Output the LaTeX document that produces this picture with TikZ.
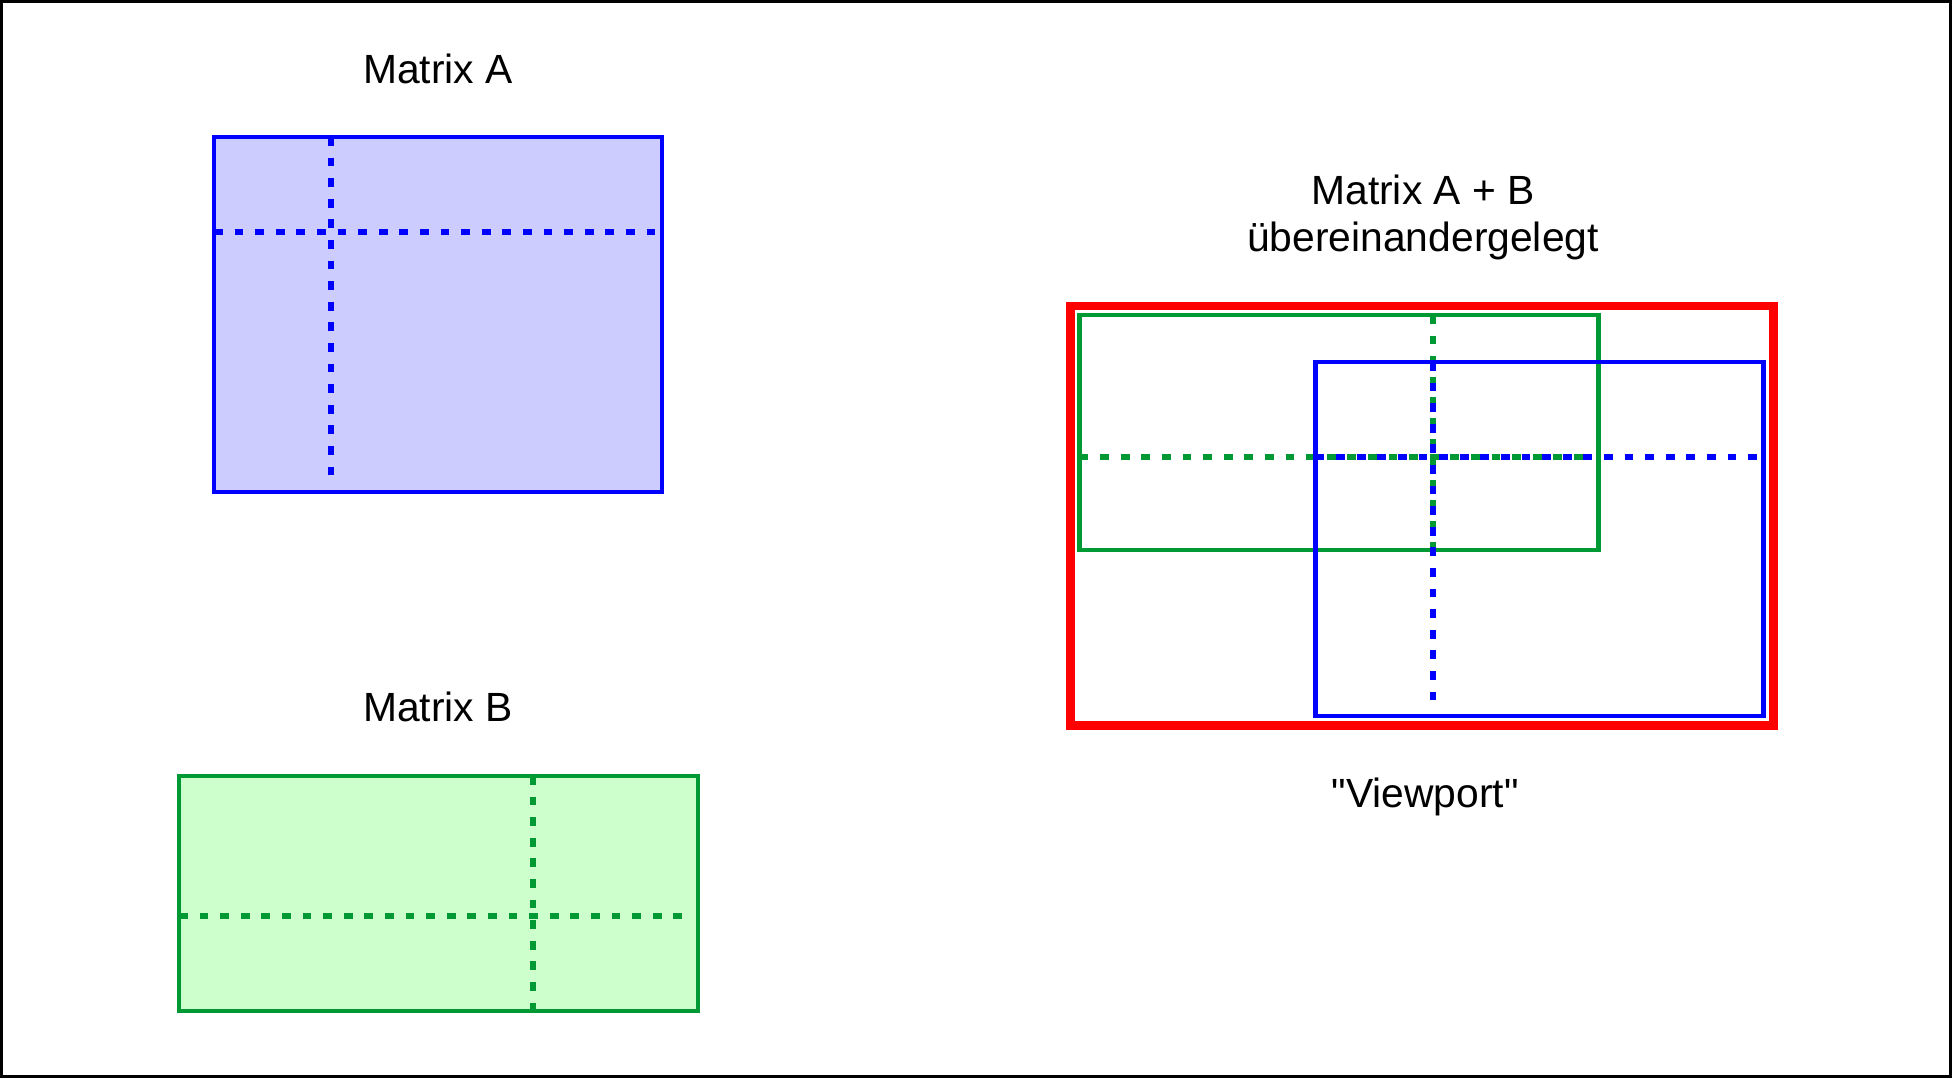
\documentclass[tikz,border=0pt]{standalone}
\usepackage{fontspec}
\setmainfont{Liberation Sans}[Ligatures=TeXOff]
\definecolor{blueA}{HTML}{0000FF}
\definecolor{fillA}{HTML}{CCCCFF}
\definecolor{greenB}{HTML}{009933}
\definecolor{fillB}{HTML}{CCFFCC}
\definecolor{redV}{HTML}{FF0000}
\begin{document}
\begin{tikzpicture}[x=0.5pt,y=-0.5pt,
  lbl/.style={font=\fontsize{20.4}{24}\selectfont, inner sep=0pt, anchor=base},
  boxa/.style={draw=blueA, line width=2.4pt},
  boxb/.style={draw=greenB, line width=2.4pt},
  dsh/.style={line width=2.8pt, dash pattern=on 4.4pt off 5.9pt},
  viewbox/.style={draw=redV, line width=4.4pt}]
\useasboundingbox (0,0) rectangle (1952,1078);
\draw[line width=1.5pt] (1.5,1.5) rectangle (1950.5,1076.5);

% Matrix A
\node[lbl] (ta) at (438,83) {Matrix A};
\fill[fillA] (214,137) rectangle (662,492);
\draw[dsh, blueA] (214,232) -- (660,232);
\draw[dsh, blueA] (331,137) -- (331,481);
\draw[boxa] (214,137) rectangle (662,492);

% Matrix B
\node[lbl] (tb) at (438,721) {Matrix B};
\fill[fillB] (179,776) rectangle (698,1011);
\draw[dsh, greenB] (179,916) -- (692,916);
\draw[dsh, greenB] (533,776) -- (533,1011);
\draw[boxb] (179,776) rectangle (698,1011);

% Overlay
\node[lbl] (tab) at (1423,204) {Matrix A + B};
\node[lbl] (tsub) at (1423,251) {übereinandergelegt};
\draw[viewbox] (1070.5,306) rectangle (1773.5,725.5);
\draw[dsh, greenB] (1079.5,457) -- (1592,457);
\draw[dsh, greenB] (1433,315) -- (1433,550);
\draw[boxb] (1079.5,315) rectangle (1598.5,550);
\draw[dsh, blueA] (1315.5,457) -- (1761,457);
\draw[dsh, blueA] (1433,362) -- (1433,705);
\draw[boxa] (1315.5,362) rectangle (1763.5,716);
\node[lbl] (tv) at (1425,807) {"Viewport"};
\end{tikzpicture}
\end{document}
